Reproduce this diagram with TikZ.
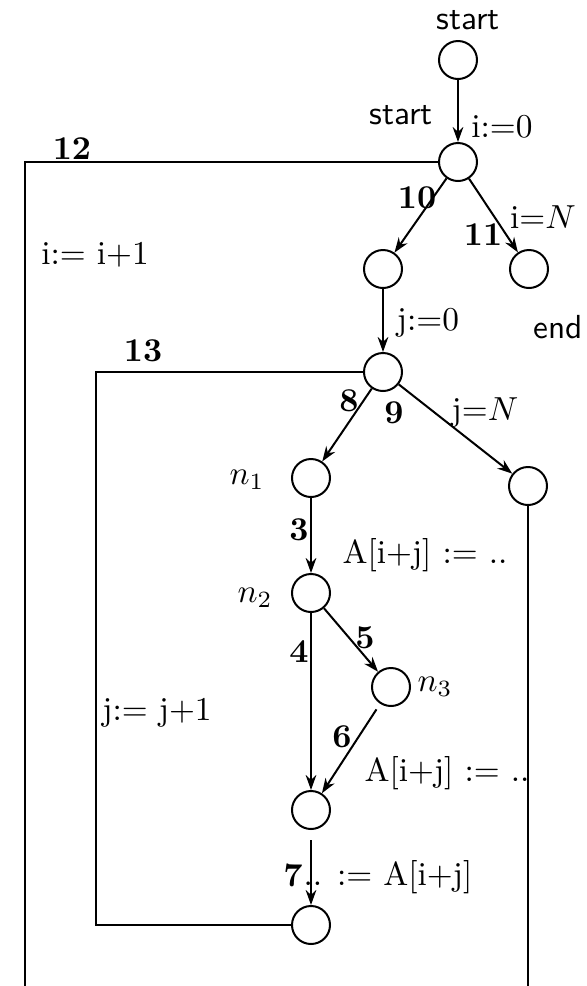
\documentclass[tikz,border=0pt]{standalone}
\usepackage{tikz}
\usetikzlibrary{arrows.meta}
\tikzset{
  vtx/.style={circle, draw, line width=0.6pt, minimum size=11.4pt, inner sep=0pt},
  enr/.style={font=\bfseries, inner sep=0pt},
  stmt/.style={inner sep=0pt},
  slab/.style={font=\sffamily, inner sep=0pt},
  arr/.style={-{Stealth[length=4.5pt, width=3.2pt]}, line width=0.6pt},
  wire/.style={line width=0.6pt},
}

\begin{document}
\begin{tikzpicture}[x=0.3pt, y=-0.3pt]
\useasboundingbox (0,0) rectangle (587,986);
% vertices of the flow graph
\node[vtx] (s0) at (458,60) {};
\node[vtx] (s1) at (458,162) {};
\node[vtx] (b)  at (383,269) {};
\node[vtx] (c)  at (529,269) {};
\node[vtx] (d)  at (383,372) {};
\node[vtx] (n1) at (311,478) {};
\node[vtx] (e)  at (528,486) {};
\node[vtx] (n2) at (311,593) {};
\node[vtx] (n3) at (391,687) {};
\node[vtx] (f)  at (311,810) {};
\node[vtx] (g)  at (311,925) {};
% loop back lines
\coordinate (otop) at (25,162);
\coordinate (obot) at (25,986);
\coordinate (itop) at (96,372);
\coordinate (ibot) at (96,925);
\coordinate (rbot) at (528,986);
\draw[wire] (s1.west) -- (otop) -- (obot);
\draw[wire] (d.west) -- (itop) -- (ibot) -- (g.west);
\draw[wire] (e.south) -- (rbot);
% edges
\draw[arr] (s0) -- (s1);
\draw[arr] (s1) -- (b);
\draw[arr] (s1) -- (c);
\draw[arr] (b) -- (d);
\draw[arr] (d) -- (n1);
\draw[arr] (d) -- (e);
\draw[arr] (n1) -- (n2);
\draw[arr] (n2) -- (f);
\draw[arr] (n2) -- (n3);
\draw[arr, shorten <=2pt] (n3) -- (f);
\draw[arr, shorten <=3pt] (f) -- (g);
% labels
\node[slab] (lstart0) at (468,20) {start};
\node[slab] (lstart1) at (401,115) {start};
\node[slab] (lend) at (558,327) {end};
\node[stmt] (li0) at (502,127) {i:=0};
\node[stmt] (liN) at (543,217) {i=$N$};
\node[stmt] (linc) at (95,255) {i:= i+1};
\node[stmt] (lj0) at (428,323) {j:=0};
\node[stmt] (ljN) at (485,413) {j=$N$};
\node[stmt] (ljinc) at (157,713) {j:= j+1};
\node[stmt] (la1) at (425,555) {A[i+j] := ..};
\node[stmt] (la2) at (447,773) {A[i+j] := ..};
\node[stmt] (la3) at (388,877) {.. := A[i+j]};
\node[stmt] (lnA) at (247,480) {$n_1$};
\node[stmt] (lnB) at (255,598) {$n_2$};
\node[stmt] (lnC) at (435,687) {$n_3$};
\node[enr] (e12) at (72,149) {12};
\node[enr] (e13) at (143,351) {13};
\node[enr] (e10) at (417,198) {10};
\node[enr] (e11) at (483,235) {11};
\node[enr] (e8) at (349,401) {8};
\node[enr] (e9) at (394,413) {9};
\node[enr] (e3) at (299,530) {3};
\node[enr] (e4) at (299,652) {4};
\node[enr] (e5) at (365,638) {5};
\node[enr] (e6) at (342,737) {6};
\node[enr] (e7) at (293,875) {7};
\end{tikzpicture}
\end{document}
